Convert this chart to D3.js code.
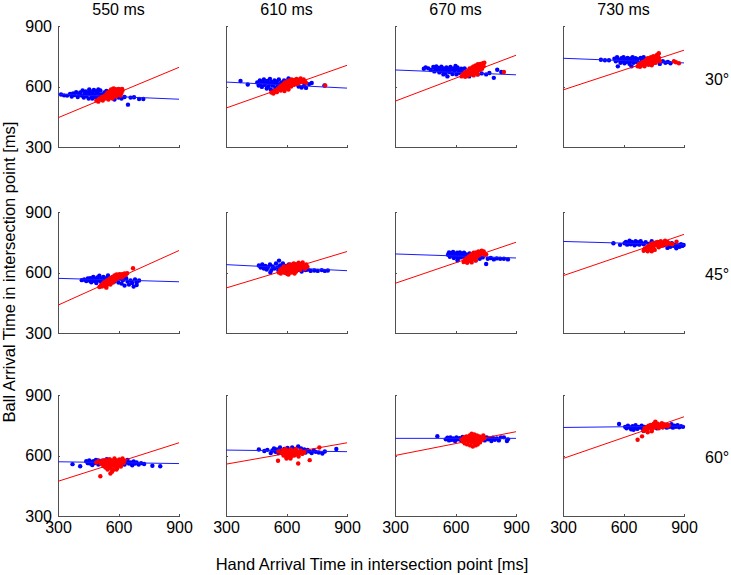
<!DOCTYPE html>
<html>
<head>
<meta charset="utf-8">
<title>Arrival times</title>
<style>
body {
  margin: 0;
  background: #fff;
}
text {
  font-family: "Liberation Sans", Arial, sans-serif;
  fill: #000;
}
.axis path, .axis line {
  stroke: #505050;
  shape-rendering: crispEdges;
}
.axis text {
  font-size: 16px;
}
</style>
<script src="https://d3js.org/d3.v7.min.js"></script>
</head>
<body>
<script>

// column titles, row titles, tick values
var times = ["550 ms", "610 ms", "670 ms", "730 ms"];
var angles = ["30°", "45°", "60°"];
var ticks = [300, 600, 900];

// regression lines: ball time at hand = 300 and at hand = 900 (panels row by row)
var blueLines = [[562,537],[622,592],[682,658],[740,717],
                 [571,554],[639,609],[692,672],[754,737],
                 [569,560],[627,619],[685,685],[739,746]];
var redLines  = [[445,695],[493,705],[527,755],[583,780],
                 [438,709],[523,704],[546,750],[584,789],
                 [472,663],[557,663],[600,718],[585,792]];

// blue points [hand, ball]
var bluePts = [
  [[315,560],[330,556],[345,555],[360,563],[368,550],[375,565],[382,558],[390,572],[398,548],[405,560],[410,570],[418,555],[422,580],[428,545],[432,565],[438,575],[442,553],[448,568],[452,540],[458,578],[462,560],[468,550],[472,570],[478,583],[482,558],[488,545],[492,575],[498,565],[505,552],[510,580],[515,560],[520,540],[530,570],[545,548],[560,545],[580,535],[600,545],[615,540],[630,548],[647,510],[660,545],[677,547],[702,538],[723,538],[540,578],[500,585],[455,585],[470,540]],
  [[372,627],[408,610],[455,620],[462,605],[468,630],[472,612],[478,598],[482,625],[488,635],[492,608],[498,618],[502,590],[505,628],[510,600],[515,615],[518,638],[522,585],[525,622],[530,605],[535,612],[540,630],[545,595],[548,618],[552,625],[558,608],[562,635],[568,612],[575,620],[580,600],[588,630],[595,615],[600,625],[610,640],[620,632],[630,610],[645,625],[660,600],[675,595],[688,605],[697,593],[712,612],[725,617],[788,605],[600,598],[540,580],[565,592]],
  [[443,688],[452,695],[465,690],[478,682],[490,697],[495,675],[500,688],[505,700],[510,680],[515,692],[520,670],[525,686],[530,698],[535,676],[540,690],[545,682],[550,665],[555,694],[560,678],[565,688],[570,672],[575,697],[580,684],[585,662],[590,690],[595,676],[600,686],[605,660],[610,694],[615,680],[620,668],[628,688],[635,675],[645,690],[655,660],[668,650],[690,665],[710,660],[730,665],[752,660],[768,667],[790,643],[807,683],[827,672],[560,650],[540,660],[600,702]],
  [[488,733],[508,730],[528,730],[555,738],[562,725],[568,745],[572,700],[578,732],[585,718],[590,740],[596,728],[600,745],[605,715],[610,735],[615,722],[620,742],[625,730],[630,712],[635,738],[640,725],[645,745],[650,718],[655,732],[660,740],[665,722],[670,735],[678,715],[685,742],[692,728],[700,720],[710,735],[720,712],[735,725],[750,718],[765,730],[780,712],[795,725],[808,718],[820,722],[833,715],[640,700],[700,745]],
  [[418,562],[430,565],[440,558],[448,570],[455,560],[460,572],[465,552],[470,565],[475,578],[480,558],[485,568],[490,548],[495,575],[500,562],[505,584],[510,555],[515,570],[520,545],[525,578],[530,562],[535,550],[540,572],[548,585],[555,560],[560,545],[570,575],[580,555],[592,568],[600,550],[608,570],[615,545],[622,562],[630,535],[638,572],[645,555],[652,540],[660,560],[668,548],[675,530],[682,565],[690,552],[702,560],[690,538]],
  [[463,635],[472,625],[480,640],[488,620],[495,632],[502,615],[510,628],[518,640],[525,612],[532,630],[540,620],[548,645],[555,625],[560,610],[563,659],[568,635],[575,620],[582,645],[590,615],[598,632],[605,625],[612,640],[620,615],[628,630],[635,620],[645,640],[655,612],[665,628],[675,605],[685,620],[695,612],[705,615],[720,608],[738,610],[755,608],[775,612],[790,608],[805,610],[600,600],[520,600]],
  [[563,688],[568,700],[572,678],[578,695],[583,685],[588,702],[592,672],[598,690],[603,680],[608,698],[612,668],[617,688],[622,700],[627,675],[632,692],[637,682],[642,698],[648,670],[655,690],[662,680],[670,695],[677,685],[690,670],[705,680],[720,668],[735,675],[752,642],[760,668],[775,672],[790,665],[805,670],[822,668],[840,668],[860,665],[700,660],[610,660]],
  [[550,745],[583,737],[605,745],[612,752],[618,738],[625,748],[630,758],[636,740],[642,752],[648,745],[655,735],[660,755],[666,742],[672,750],[678,738],[685,755],[692,745],[700,740],[710,750],[725,742],[740,755],[760,748],[780,740],[800,735],[810,748],[818,722],[825,740],[832,728],[840,745],[848,732],[855,738],[862,720],[870,735],[878,728],[885,740],[892,732],[898,736]],
  [[372,557],[410,547],[440,572],[448,562],[455,575],[460,560],[465,568],[470,553],[476,572],[482,562],[488,578],[494,565],[500,555],[506,572],[512,560],[520,568],[528,575],[535,558],[542,582],[550,565],[560,570],[575,560],[590,568],[605,575],[615,560],[622,572],[630,555],[638,568],[645,578],[652,560],[660,565],[668,552],[675,570],[682,560],[690,565],[700,555],[712,562],[727,558],[768,549],[807,547],[500,575],[540,548]],
  [[463,630],[490,622],[505,628],[522,612],[530,625],[538,635],[545,618],[552,630],[560,612],[568,640],[575,625],[582,615],[590,632],[598,620],[605,638],[612,612],[620,628],[628,640],[635,618],[642,632],[650,622],[658,645],[665,615],[672,635],[680,622],[688,630],[695,615],[705,628],[715,620],[725,612],[735,625],[745,618],[760,615],[778,610],[790,620],[847,632],[560,618],[620,615]],
  [[510,696],[552,680],[560,688],[568,675],[575,690],[582,678],[590,685],[598,672],[605,690],[612,680],[620,686],[628,675],[635,692],[642,682],[650,688],[660,678],[670,692],[680,685],[692,680],[705,690],[720,678],[735,685],[745,675],[755,690],[762,680],[770,685],[778,672],[785,688],[795,678],[805,685],[815,675],[825,690],[840,690],[855,672],[860,680]],
  [[578,756],[608,742],[615,735],[622,748],[630,740],[638,730],[645,745],[652,738],[660,750],[668,732],[675,742],[683,738],[690,748],[698,730],[705,742],[715,735],[725,745],[738,738],[750,742],[765,735],[780,745],[795,740],[808,752],[815,738],[822,748],[830,742],[838,755],[845,738],[852,748],[860,742],[868,750],[876,740],[885,745],[895,742],[700,722],[650,728]]
];

// red points [hand, ball]
var redPts = [
  [[490,530],[500,525],[505,540],[512,535],[518,548],[522,530],[528,545],[532,555],[535,540],[540,560],[543,548],[546,570],[550,535],[552,555],[555,565],[558,578],[560,548],[563,585],[565,560],[568,572],[570,540],[572,585],[575,555],[578,568],[580,588],[583,578],[585,560],[588,550],[590,585],[592,570],[595,580],[598,560],[600,588],[603,575],[606,565],[608,585],[612,578],[615,568],[618,588],[610,555],[620,580],[575,590]],
  [[525,570],[535,565],[540,578],[548,582],[552,572],[558,590],[562,585],[568,598],[572,580],[575,605],[580,592],[585,612],[588,598],[592,620],[595,605],[600,590],[603,615],[606,625],[610,600],[613,630],[616,610],[620,620],[623,600],[626,635],[630,615],[633,625],[636,608],[640,632],[643,620],[646,612],[650,638],[653,625],[657,615],[660,632],[665,620],[670,640],[675,628],[680,622],[685,635],[692,625],[697,618],[792,605],[610,585],[590,578]],
  [[630,650],[635,660],[640,655],[645,668],[648,648],[652,662],[655,675],[658,652],[662,668],[665,680],[668,658],[670,690],[672,670],[675,660],[678,685],[680,672],[683,695],[686,665],[688,680],[690,700],[693,675],[696,690],[698,668],[700,705],[703,685],[706,695],[708,675],[711,710],[714,690],[717,700],[720,682],[723,712],[726,695],[729,705],[732,688],[736,715],[740,700],[743,718],[710,660],[690,655],[840,672]],
  [[670,700],[676,710],[682,698],[688,715],[692,705],[696,722],[700,712],[704,700],[708,728],[712,715],[716,735],[720,720],[724,708],[728,740],[732,725],[736,745],[740,730],[744,715],[748,750],[752,735],[756,722],[760,745],[764,755],[768,732],[772,760],[776,742],[780,725],[775,765],[740,705],[760,718],[720,740],[850,725],[860,720],[875,715]],
  [[505,528],[512,535],[518,530],[522,545],[526,538],[530,552],[534,532],[538,548],[542,560],[546,540],[550,555],[553,565],[556,545],[560,572],[563,555],[566,565],[570,578],[573,550],[576,570],[580,585],[583,562],[586,578],[590,590],[593,570],[596,585],[600,575],[604,592],[608,580],[612,590],[616,575],[620,592],[625,583],[630,595],[636,588],[643,596],[560,540],[540,525],[672,621]],
  [[562,600],[568,612],[572,595],[578,620],[582,605],[588,630],[592,598],[596,615],[600,625],[604,592],[608,635],[612,610],[616,620],[620,640],[624,600],[628,628],[632,612],[636,645],[640,620],[644,632],[648,605],[652,640],[656,622],[660,648],[664,630],[668,612],[672,642],[676,625],[680,650],[686,635],[692,618],[698,640],[704,628],[640,595],[610,590]],
  [[640,652],[645,662],[650,655],[654,670],[658,648],[662,665],[666,680],[670,658],[674,675],[678,690],[682,665],[686,682],[690,698],[694,672],[698,688],[702,700],[706,678],[710,695],[714,705],[718,685],[722,700],[726,692],[730,708],[735,698],[740,705],[745,688],[752,690],[700,660],[680,650]],
  [[700,708],[705,718],[710,712],[715,725],[720,705],[725,732],[730,718],[735,740],[740,722],[745,745],[750,730],[755,712],[760,748],[765,735],[770,752],[775,725],[780,742],[785,755],[790,732],[795,748],[800,740],[806,758],[812,738],[818,752],[825,745],[832,742],[842,740],[863,753],[740,705]],
  [[490,565],[500,572],[512,560],[520,575],[525,548],[530,565],[535,540],[538,578],[542,555],[546,530],[550,570],[553,545],[556,582],[560,511],[560,560],[563,535],[566,575],[570,550],[573,528],[576,565],[580,585],[583,545],[586,560],[590,575],[594,538],[597,568],[600,552],[604,580],[608,560],[612,545],[615,572],[620,585],[625,562],[510,497],[568,520],[590,530],[630,575]],
  [[560,620],[575,612],[580,628],[585,600],[590,615],[595,632],[598,595],[600,608],[603,620],[606,590],[610,625],[613,603],[616,615],[620,585],[622,630],[626,598],[630,612],[634,622],[638,600],[642,615],[646,632],[650,605],[655,620],[660,595],[665,612],[670,625],[678,608],[688,615],[558,574],[658,560],[715,577],[763,640],[620,600],[600,585]],
  [[630,680],[638,668],[642,690],[646,660],[650,678],[654,695],[658,655],[662,685],[666,670],[670,700],[673,650],[676,680],[680,665],[683,695],[686,645],[690,675],[693,705],[696,660],[700,688],[703,670],[706,700],[710,655],[714,682],[718,695],[722,665],[726,690],[732,678],[738,700],[743,685],[680,708],[700,650]],
  [[700,722],[705,735],[710,728],[715,742],[720,732],[725,748],[730,738],[735,752],[740,728],[745,745],[750,758],[755,738],[758,768],[760,750],[765,742],[770,758],[775,735],[780,752],[785,745],[790,760],[795,740],[800,755],[806,748],[812,752],[817,745],[825,750],[720,715],[740,720],[670,678],[692,695]]
];

var width = 731, height = 575;
var size = 121;
var colLeft = [58, 226, 395, 563];
var rowTop = [26, 212, 395];
var rowLabelY = [85, 280, 463];

var svg = d3.select("body").append("svg")
    .attr("width", width)
    .attr("height", height);

var x = d3.scaleLinear().domain([300, 900]).range([0, size]);
var y = d3.scaleLinear().domain([300, 900]).range([size, 0]);

angles.forEach(function(angle, r) {
  times.forEach(function(time, c) {
    var i = r * 4 + c;
    var g = svg.append("g")
        .attr("transform", "translate(" + colLeft[c] + "," + rowTop[r] + ")");

    var xAxis = d3.axisBottom(x).tickValues(ticks).tickSizeInner(-2).tickSizeOuter(0).tickPadding(6);
    var yAxis = d3.axisLeft(y).tickValues(ticks).tickSizeInner(-2).tickSizeOuter(0).tickPadding(6);
    if (r < 2) xAxis.tickFormat("");
    if (c > 0) yAxis.tickFormat("");

    g.append("g").attr("class", "axis")
        .attr("transform", "translate(0," + size + ")")
        .call(xAxis);
    g.append("g").attr("class", "axis")
        .call(yAxis);

    g.selectAll("circle.blue")
        .data(bluePts[i])
      .enter().append("circle")
        .attr("class", "blue")
        .attr("cx", function(d) { return x(d[0]); })
        .attr("cy", function(d) { return y(d[1]); })
        .attr("r", 2.2)
        .attr("fill", "#0000ff");

    g.append("line")
        .attr("x1", x(300)).attr("y1", y(blueLines[i][0]))
        .attr("x2", x(900)).attr("y2", y(blueLines[i][1]))
        .attr("stroke", "#1a1aff")
        .attr("stroke-width", 1);

    g.selectAll("circle.red")
        .data(redPts[i])
      .enter().append("circle")
        .attr("class", "red")
        .attr("cx", function(d) { return x(d[0]); })
        .attr("cy", function(d) { return y(d[1]); })
        .attr("r", 2.2)
        .attr("fill", "#ff0000");

    g.append("line")
        .attr("x1", x(300)).attr("y1", y(redLines[i][0]))
        .attr("x2", x(900)).attr("y2", y(redLines[i][1]))
        .attr("stroke", "#ff0000")
        .attr("stroke-width", 1);

    if (r == 0) {
      g.append("text")
          .attr("x", size / 2)
          .attr("y", -11)
          .attr("text-anchor", "middle")
          .style("font-size", "16px")
          .text(time);
    }
  });

  svg.append("text")
      .attr("x", 705)
      .attr("y", rowLabelY[r])
      .style("font-size", "16px")
      .text(angle);
});

// axis titles
svg.append("text")
    .attr("x", 372)
    .attr("y", 570)
    .attr("text-anchor", "middle")
    .style("font-size", "16.5px")
    .text("Hand Arrival Time in intersection point [ms]");

svg.append("text")
    .attr("transform", "translate(15,272) rotate(-90)")
    .attr("text-anchor", "middle")
    .style("font-size", "16.5px")
    .text("Ball Arrival Time in intersection point [ms]");

</script>
</body>
</html>
